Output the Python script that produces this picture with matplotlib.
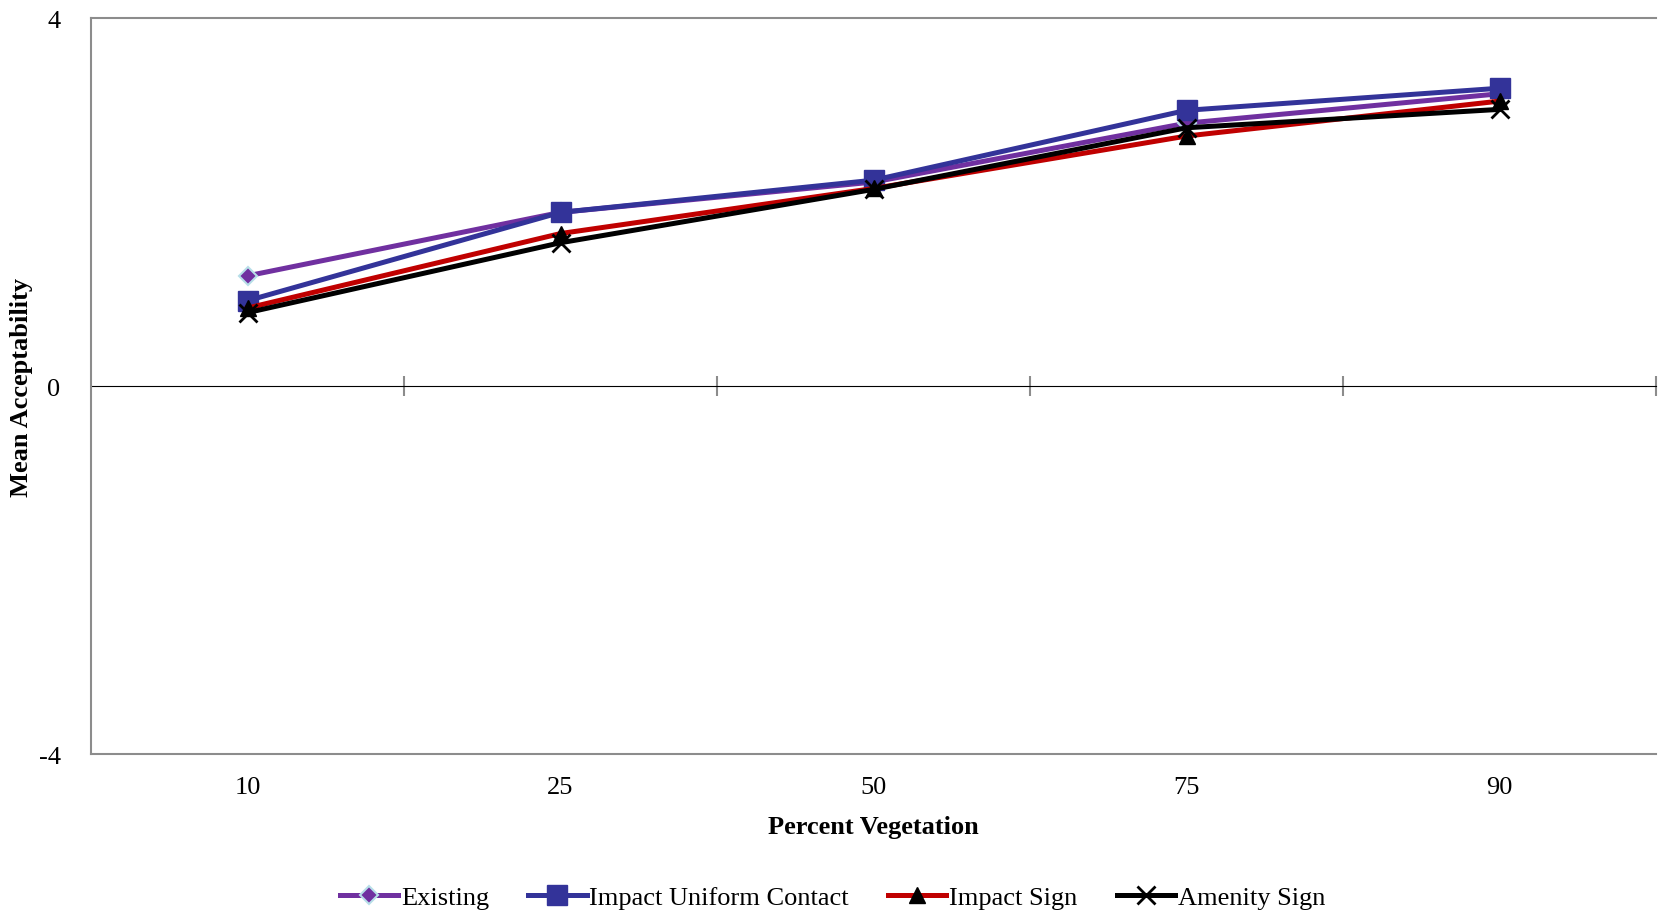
"""
Mean acceptability by percent vegetation, four sign conditions
"""
import matplotlib
matplotlib.use('Agg')
import matplotlib.pyplot as plt
import numpy as np

# data
categories = ['10', '25', '50', '75', '90']
existing = [1.20, 1.89, 2.22, 2.86, 3.18]
impact_uniform = [0.93, 1.89, 2.24, 3.00, 3.24]
impact_sign = [0.85, 1.66, 2.15, 2.72, 3.10]
amenity_sign = [0.80, 1.56, 2.14, 2.81, 3.01]

plt.rcParams['font.family'] = ['Liberation Serif', 'DejaVu Serif']

fig = plt.figure(figsize=(16.65, 9.12), dpi=100)
ax = fig.add_axes([0.0547, 0.1721, 0.9399, 0.8067])

x = np.arange(len(categories))
grey = '#8c8c8c'

ax.plot(x, existing, color='#7030A0', lw=3.6, marker='D', ms=9,
        mfc='#7030A0', mec='#B7DEE8', mew=1.5, label='Existing', zorder=3)
ax.plot(x, impact_uniform, color='#333399', lw=3.6, marker='s', ms=14,
        mfc='#333399', mec='#333399', label='Impact Uniform Contact', zorder=4)
ax.plot(x, impact_sign, color='#C00000', lw=3.6, marker='^', ms=11,
        mfc='black', mec='black', label='Impact Sign', zorder=5)
ax.plot(x, amenity_sign, color='black', lw=3.6, marker='x', ms=13, mew=2,
        label='Amenity Sign', zorder=6)

ax.set_xlim(-0.5, len(categories) - 0.5)
ax.set_ylim(-4, 4)
ax.set_yticks([-4, 0, 4])
ax.set_yticklabels(['-4', '0', '4'])
ax.set_xticks(x)
ax.set_xticklabels(categories)
ax.tick_params(axis='both', length=0, labelsize=19, colors='black')
ax.tick_params(axis='y', pad=22)
ax.tick_params(axis='x', pad=16)

for side in ['left', 'top', 'bottom']:
    ax.spines[side].set_color(grey)
    ax.spines[side].set_linewidth(1.5)
ax.spines['right'].set_visible(False)

# category axis crossing at zero, with tick marks between categories
zero_ax = ax.secondary_xaxis(0.5)
zero_ax.set_xticks(np.arange(0.5, len(categories), 1.0))
zero_ax.tick_params(direction='inout', length=14, width=1.5, color=grey,
                    labelbottom=False, labeltop=False)
zero_ax.set_xticklabels([])
zero_ax.spines['bottom'].set_color(grey)
zero_ax.spines['bottom'].set_linewidth(1.5)

ax.set_xlabel('Percent Vegetation', fontsize=19, fontweight='bold', labelpad=12)
ax.set_ylabel('Mean Acceptability', fontsize=19, fontweight='bold')
ax.yaxis.set_label_coords(-0.037, 0.5)

fig.legend(loc='center', bbox_to_anchor=(0.5, 0.015), ncol=4, frameon=False,
           fontsize=19, handlelength=2.2, handletextpad=0.1, columnspacing=1.5)

fig.savefig('out.png', dpi=100)
